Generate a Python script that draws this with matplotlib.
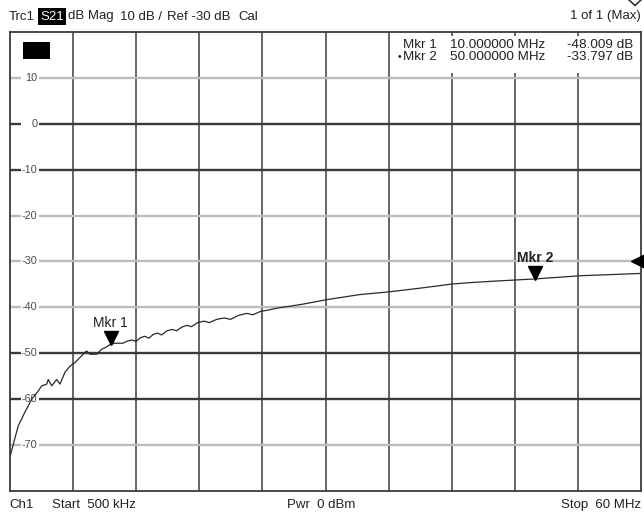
import matplotlib
matplotlib.use('Agg')
import matplotlib.pyplot as plt
from matplotlib.patches import Rectangle
from matplotlib.lines import Line2D
from matplotlib.transforms import offset_copy
import numpy as np

plt.rcParams['font.family'] = ['Liberation Sans', 'DejaVu Sans']

# ---------------- data ----------------
freq_mhz = [0.5, 0.81, 1.28, 1.91, 2.55, 3.17, 3.49, 3.96, 4.11, 4.43, 4.90,
            5.21, 5.69, 6.16, 6.63, 7.57, 7.73, 8.04, 8.68, 9.15, 9.46, 10.0,
            10.4, 11.16, 11.6, 12.0, 12.4, 12.8, 13.2, 13.6, 14.0, 14.4, 14.8,
            15.3, 15.8, 16.2, 16.7, 17.2, 17.6, 18.2, 18.8, 19.3, 20.0, 20.7,
            21.3, 22.0, 22.8, 23.4, 24.1, 24.8, 25.6, 28.1, 30.4, 33.5, 36.3,
            39.2, 42.2, 43.9, 46.0, 50.0, 54.3, 60.0]
s21_db = [-72.6, -69.8, -65.8, -62.8, -60.0, -58.2, -57.1, -56.7, -55.7, -57.1, -55.7,
          -56.7, -54.1, -52.8, -52.0, -49.8, -49.5, -50.2, -50.2, -49.1, -48.8, -48.0,
          -47.8, -47.8, -47.3, -47.1, -47.4, -46.6, -46.3, -46.7, -45.9, -45.6, -46.0,
          -45.1, -44.8, -45.1, -44.3, -43.9, -44.2, -43.3, -43.0, -43.3, -42.6, -42.3,
          -42.6, -41.8, -41.3, -41.6, -40.9, -40.6, -40.2, -39.3, -38.3, -37.2, -36.6,
          -35.8, -34.9, -34.6, -34.3, -33.8, -33.1, -32.6]

marker_names = ['Mkr 1', 'Mkr 2']
marker_freq = [10.0, 50.0]
marker_db = [-48.009, -33.797]
marker_freq_text = ['10.000000 MHz', '50.000000 MHz']
marker_db_text = ['-48.009 dB', '-33.797 dB']

y_ticks = [10, 0, -10, -20, -30, -40, -50, -60, -70]
y_tick_labels = ['10', '0', '-10', '-20', '-30', '-40', '-50', '-60', '-70']
dark_lines = [0, -10, -50, -60]
x_start, x_stop = 0.5, 60.0
y_top, y_bottom = 20, -80
ref_level = -30

# ---------------- figure ----------------
W, H = 644, 515
fig = plt.figure(figsize=(W / 100, H / 100), dpi=100)
fig.patch.set_facecolor('white')

def fx(px):
    return px / W

def fy(py):
    return 1 - py / H

ax = fig.add_axes([fx(10), fy(491), 631 / W, 459 / H])
ax.set_xlim(x_start, x_stop)
ax.set_ylim(y_bottom, y_top)
ax.set_xticks([])
ax.set_yticks([])
for sp in ax.spines.values():
    sp.set_color('#3a3a3a')
    sp.set_linewidth(1.3)
    sp.set_zorder(6)

# vertical grid
for xv in np.linspace(x_start, x_stop, 11)[1:-1]:
    ax.axvline(xv, color='#3c3c3c', lw=1.1, zorder=1)

# horizontal grid with labels
ytr = ax.get_yaxis_transform()
for yv, lab in zip(y_ticks, y_tick_labels):
    dark = yv in dark_lines
    ax.axhline(yv, color='#3a3a3a' if dark else '#bcbcbc', lw=1.7, zorder=1)
    ax.add_patch(Rectangle((11 / 631, yv - 0.6), 18 / 631, 1.2, transform=ytr,
                           facecolor='white', edgecolor='none', zorder=2))
    ax.text(27.5 / 631, yv, lab, transform=ytr, ha='right', va='center',
            fontsize=7.8, color='#4a4a4a', zorder=3)

# black block at top-left
ax.add_patch(Rectangle((13 / 631, (491 - 59) / 459), 27 / 631, 17 / 459,
                       transform=ax.transAxes, facecolor='black', edgecolor='none', zorder=4))

# marker table area
ax.add_patch(Rectangle((382 / 631, (491 - 73) / 459), 249 / 631, 37 / 459,
                       transform=ax.transAxes, facecolor='white', edgecolor='none', zorder=2))
mfs = 9.7
for i in range(2):
    yy = 44.5 + 12.5 * i
    fig.text(fx(403), fy(yy), marker_names[i], ha='left', va='center', fontsize=mfs, color='#222')
    if i == 1:
        fig.text(fx(397.5), fy(yy), '•', ha='left', va='center', fontsize=7.5, color='#222')
    fig.text(fx(450), fy(yy), marker_freq_text[i], ha='left', va='center', fontsize=mfs, color='#222')
    fig.text(fx(633), fy(yy), marker_db_text[i], ha='right', va='center', fontsize=mfs, color='#222')

# trace
ax.plot(freq_mhz, s21_db, color='#2a2a2a', lw=0.9, zorder=3)

# markers
tri_tr = offset_copy(ax.transData, fig=fig, x=0, y=6, units='dots')
lab_tr = offset_copy(ax.transData, fig=fig, x=0, y=21, units='dots')
for i, (f, d) in enumerate(zip(marker_freq, marker_db)):
    ax.plot([f], [d], marker='v', markersize=9.5, color='black', transform=tri_tr,
            zorder=5, clip_on=False)
    ax.text(f, d, marker_names[i], transform=lab_tr, ha='center', va='center',
            fontsize=10, color='#222', fontweight='bold' if i == 1 else 'normal', zorder=5)

# reference level triangle on right edge
ref_tr = offset_copy(ax.transData, fig=fig, x=-3, y=0, units='dots')
ax.plot([x_stop], [ref_level], marker='<', markersize=9.5, color='black',
        transform=ref_tr, clip_on=False, zorder=7)

# header
hy = fy(16.5)
hfs = 9.5
fig.text(fx(9), hy, 'Trc1', ha='left', va='center', fontsize=hfs, color='#222')
fig.text(fx(40.5), hy, 'S21', ha='left', va='center', fontsize=hfs, color='white',
         bbox=dict(facecolor='black', edgecolor='none', pad=1.5))
fig.text(fx(68), hy, 'dB Mag', ha='left', va='center', fontsize=hfs, color='#222')
fig.text(fx(120), hy, '10 dB /', ha='left', va='center', fontsize=hfs, color='#222')
fig.text(fx(167), hy, 'Ref -30 dB', ha='left', va='center', fontsize=hfs, color='#222')
fig.text(fx(238), hy, 'Cal', ha='left', va='center', fontsize=hfs, color='#222')
fig.text(fx(641), hy, '1 of 1 (Max)', ha='right', va='center', fontsize=hfs, color='#222')

# small diamond at top-right corner (partly cut)
fig.add_artist(Line2D([fx(628), fx(635), fx(642)], [fy(-1), fy(5.5), fy(-1)],
                      transform=fig.transFigure, color='#333', lw=1.2))

# footer
fy_ = fy(505)
fig.text(fx(9), fy_, 'Ch1', ha='left', va='center', fontsize=hfs, color='#222')
fig.text(fx(52), fy_, 'Start  500 kHz', ha='left', va='center', fontsize=hfs, color='#222')
fig.text(fx(287), fy_, 'Pwr  0 dBm', ha='left', va='center', fontsize=hfs, color='#222')
fig.text(fx(641), fy_, 'Stop  60 MHz', ha='right', va='center', fontsize=hfs, color='#222')

fig.savefig('out.png', dpi=100, facecolor='white')
